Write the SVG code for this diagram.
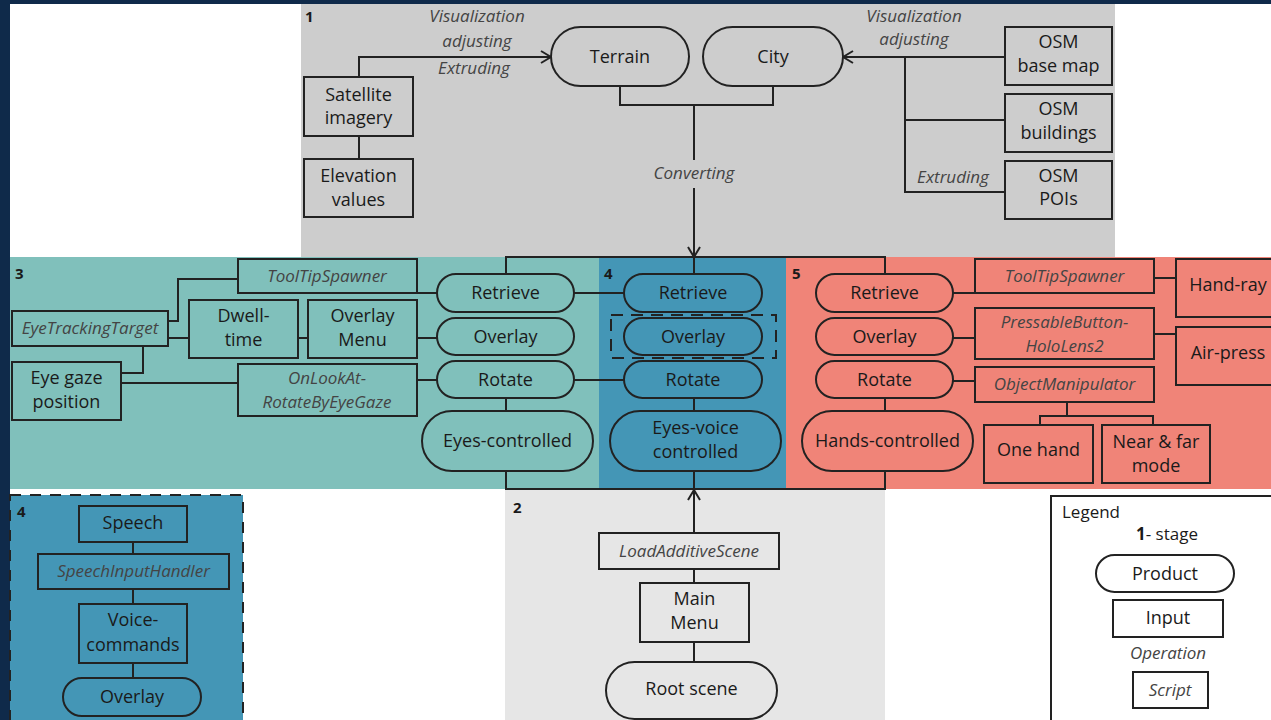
<svg xmlns="http://www.w3.org/2000/svg" width="1271" height="720" viewBox="0 0 1271 720">
<defs>
<style>
text{font-family:"Open Sans","Noto Sans",sans-serif;font-size:18px;fill:#1a1a1a;text-anchor:middle}
.it{font-style:italic;font-size:17px;fill:#444}
.num{font-weight:bold;font-size:15px;text-anchor:start}
.box{fill:none;stroke:#222;stroke-width:2}
.ln{fill:none;stroke:#222;stroke-width:2}
</style>
<marker id="arr" viewBox="0 0 12 14" markerWidth="12" markerHeight="14" refX="11" refY="7" orient="auto" markerUnits="userSpaceOnUse">
<path d="M1,1 L11,7 L1,13" fill="none" stroke="#222" stroke-width="2"/>
</marker>
</defs>
<!-- background -->
<rect x="0" y="0" width="1271" height="720" fill="#ffffff"/>
<rect x="0" y="0" width="1271" height="4" fill="#0f2a4a"/>
<rect x="0" y="0" width="10" height="720" fill="#0f2a4a"/>
<!-- stage regions -->
<g id="stage1"><rect x="301" y="4" width="814" height="253" fill="#cdcdcd"/><text class="num" x="305" y="22">1</text></g>
<g id="stage3"><rect x="10" y="257" width="589" height="232" fill="#80c0bb"/><text class="num" x="15" y="279">3</text></g>
<g id="stage4"><rect x="599" y="257" width="187" height="232" fill="#4496b6"/><text class="num" x="604" y="279">4</text></g>
<g id="stage5"><rect x="786" y="257" width="485" height="232" fill="#f08478"/><text class="num" x="792" y="279">5</text></g>
<g id="stage2"><rect x="505" y="489" width="380" height="231" fill="#e6e6e6"/><text class="num" x="513" y="513">2</text></g>
<g id="stage4b"><rect x="10" y="495" width="233" height="240" fill="#4496b6" stroke="#222" stroke-width="2" stroke-dasharray="11 9"/><text class="num" x="17" y="517">4</text></g>

<!-- connectors -->
<g id="connectors">
<path class="ln" d="M359,77 V57 H551" marker-end="url(#arr)"/>
<path class="ln" d="M359,136 V159"/>
<path class="ln" d="M1005,57 H843" marker-end="url(#arr)"/>
<path class="ln" d="M905,57 V192 H1005 M905,120 H1005"/>
<path class="ln" d="M620,86 V105 H773 V86 M694,105 V160"/>
<path class="ln" d="M694,188 V257" marker-end="url(#arr)"/>
<path class="ln" d="M506,274 V257 H885 V274 M694,257 V274"/>
<path class="ln" d="M506,471 V489 H885 V471 M694,471 V489"/>
<path class="ln" d="M694,533 V490" marker-end="url(#arr)"/>
<path class="ln" d="M694,569 V583 M694,642 V662"/>
<!-- stage 3 -->
<path class="ln" d="M168,321 H178 V279 H238"/>
<path class="ln" d="M168,338 H189 M298,338 H308 M417,338 H437"/>
<path class="ln" d="M143,346 V373 H121"/>
<path class="ln" d="M121,383 H238"/>
<path class="ln" d="M417,293 H437 M417,380 H437"/>
<path class="ln" d="M574,293 H624 M574,380 H624"/>
<path class="ln" d="M506,398 V411 M694,398 V411 M885,398 V411"/>
<!-- stage 5 -->
<path class="ln" d="M953,293 H975 M953,338 H975 M953,381 H975"/>
<path class="ln" d="M1154,278 H1176 M1154,334 H1176"/>
<path class="ln" d="M1067,402 V416 M1040,425 V416 H1153 V425"/>
<!-- stage 4b -->
<path class="ln" d="M133,542 V554 M133,589 V604 M133,663 V678"/>
</g>

<!-- stage 1 labels -->
<g id="lbl-vis1"><text class="it" x="477" y="22">Visualization</text><text class="it" x="477" y="47">adjusting</text><text class="it" x="474" y="74">Extruding</text></g>
<g id="lbl-vis2"><text class="it" x="914" y="22">Visualization</text><text class="it" x="914" y="45">adjusting</text></g>
<g id="lbl-ext2"><text class="it" x="953" y="183">Extruding</text></g>
<g id="lbl-conv"><text class="it" x="694" y="179">Converting</text></g>

<g id="satellite"><rect class="box" x="304" y="77" width="109" height="59"/><text x="358.5" y="101">Satellite</text><text x="358.5" y="124">imagery</text></g>
<g id="elevation"><rect class="box" x="304" y="159" width="109" height="58"/><text x="358.5" y="182">Elevation</text><text x="358.5" y="206">values</text></g>
<g id="terrain"><rect class="box" x="551" y="27" width="138" height="59" rx="29.5"/><text x="620" y="63">Terrain</text></g>
<g id="city"><rect class="box" x="703" y="27" width="140" height="59" rx="29.5"/><text x="773" y="63">City</text></g>
<g id="osm-base"><rect class="box" x="1005" y="27" width="107" height="58"/><text x="1058.5" y="48">OSM</text><text x="1058.5" y="72">base map</text></g>
<g id="osm-buildings"><rect class="box" x="1005" y="94" width="107" height="58"/><text x="1058.5" y="115">OSM</text><text x="1058.5" y="139">buildings</text></g>
<g id="osm-pois"><rect class="box" x="1005" y="161" width="107" height="58"/><text x="1058.5" y="182">OSM</text><text x="1058.5" y="205">POIs</text></g>

<!-- stage 3 nodes -->
<g id="s3-tooltip"><rect class="box" x="238" y="259" width="179" height="34"/><text class="it" x="327" y="282">ToolTipSpawner</text></g>
<g id="s3-eyetracking"><rect class="box" x="12" y="311" width="156" height="35"/><text class="it" x="90" y="334">EyeTrackingTarget</text></g>
<g id="s3-dwell"><rect class="box" x="189" y="300" width="109" height="58"/><text x="243.5" y="322">Dwell-</text><text x="243.5" y="346">time</text></g>
<g id="s3-overlaymenu"><rect class="box" x="308" y="300" width="109" height="58"/><text x="362.5" y="322">Overlay</text><text x="362.5" y="346">Menu</text></g>
<g id="s3-eyegaze"><rect class="box" x="12" y="362" width="109" height="58"/><text x="66.5" y="384">Eye gaze</text><text x="66.5" y="408">position</text></g>
<g id="s3-onlook"><rect class="box" x="238" y="364" width="179" height="52"/><text class="it" x="327" y="384">OnLookAt-</text><text class="it" x="327" y="408">RotateByEyeGaze</text></g>
<g id="s3-retrieve"><rect class="box" x="437" y="274" width="137" height="38" rx="19"/><text x="505.5" y="299">Retrieve</text></g>
<g id="s3-overlay"><rect class="box" x="437" y="318" width="137" height="37" rx="18.5"/><text x="505.5" y="343">Overlay</text></g>
<g id="s3-rotate"><rect class="box" x="437" y="361" width="137" height="37" rx="18.5"/><text x="505.5" y="386">Rotate</text></g>
<g id="s3-eyes"><rect class="box" x="422" y="411" width="171" height="60" rx="30"/><text x="507.5" y="447">Eyes-controlled</text></g>

<!-- stage 4 nodes -->
<g id="s4-retrieve"><rect class="box" x="624" y="274" width="138" height="38" rx="19"/><text x="693" y="299">Retrieve</text></g>
<g id="s4-overlay"><rect x="611" y="315" width="165" height="43" fill="none" stroke="#222" stroke-width="2" stroke-dasharray="12 8"/><rect class="box" x="624" y="318" width="138" height="37" rx="18.5"/><text x="693" y="343">Overlay</text></g>
<g id="s4-rotate"><rect class="box" x="624" y="361" width="138" height="37" rx="18.5"/><text x="693" y="386">Rotate</text></g>
<g id="s4-eyesvoice"><rect class="box" x="610" y="411" width="171" height="60" rx="30"/><text x="695.5" y="434">Eyes-voice</text><text x="695.5" y="458">controlled</text></g>

<!-- stage 5 nodes -->
<g id="s5-retrieve"><rect class="box" x="816" y="274" width="137" height="38" rx="19"/><text x="884.5" y="299">Retrieve</text></g>
<g id="s5-overlay"><rect class="box" x="816" y="318" width="137" height="37" rx="18.5"/><text x="884.5" y="343">Overlay</text></g>
<g id="s5-rotate"><rect class="box" x="816" y="361" width="137" height="37" rx="18.5"/><text x="884.5" y="386">Rotate</text></g>
<g id="s5-hands"><rect class="box" x="802" y="411" width="171" height="60" rx="30"/><text x="887.5" y="447">Hands-controlled</text></g>
<g id="s5-tooltip"><rect class="box" x="975" y="259" width="179" height="34"/><text class="it" x="1064.5" y="282">ToolTipSpawner</text></g>
<g id="s5-pressable"><rect class="box" x="975" y="308" width="179" height="51"/><text class="it" x="1064.5" y="328">PressableButton-</text><text class="it" x="1064.5" y="352">HoloLens2</text></g>
<g id="s5-objmanip"><rect class="box" x="975" y="367" width="179" height="35"/><text class="it" x="1064.5" y="390">ObjectManipulator</text></g>
<g id="s5-handray"><rect class="box" x="1176" y="259" width="110" height="58"/><text x="1228" y="291">Hand-ray</text></g>
<g id="s5-airpress"><rect class="box" x="1176" y="327" width="110" height="58"/><text x="1228" y="359">Air-press</text></g>
<g id="s5-onehand"><rect class="box" x="984" y="425" width="109" height="58"/><text x="1038.5" y="456">One hand</text></g>
<g id="s5-nearfar"><rect class="box" x="1102" y="425" width="108" height="58"/><text x="1156" y="448">Near &amp; far</text><text x="1156" y="472">mode</text></g>

<!-- stage 4b nodes -->
<g id="s4b-speech"><rect class="box" x="79" y="506" width="108" height="36"/><text x="133" y="529">Speech</text></g>
<g id="s4b-handler"><rect class="box" x="38" y="554" width="191" height="35"/><text class="it" x="133.5" y="577">SpeechInputHandler</text></g>
<g id="s4b-voice"><rect class="box" x="79" y="604" width="108" height="59"/><text x="133" y="626">Voice-</text><text x="133" y="651">commands</text></g>
<g id="s4b-overlay"><rect class="box" x="63" y="678" width="138" height="38" rx="19"/><text x="132" y="703">Overlay</text></g>

<!-- stage 2 nodes -->
<g id="s2-load"><rect class="box" x="599" y="533" width="180" height="36"/><text class="it" x="689" y="557">LoadAdditiveScene</text></g>
<g id="s2-mainmenu"><rect class="box" x="640" y="583" width="109" height="59"/><text x="694.5" y="605">Main</text><text x="694.5" y="629">Menu</text></g>
<g id="s2-root"><rect class="box" x="606" y="662" width="171" height="57" rx="28.5"/><text x="691.5" y="695">Root scene</text></g>

<!-- legend -->
<g id="legend">
<rect x="1051" y="496" width="230" height="240" fill="#ffffff" stroke="#222" stroke-width="2"/>
<text x="1062" y="518" style="text-anchor:start;font-size:17px">Legend</text>
<text x="1167" y="540" style="font-size:17px"><tspan font-weight="bold">1</tspan>- stage</text>
<rect class="box" x="1096" y="555" width="138" height="37" rx="18.5"/><text x="1165" y="580">Product</text>
<rect class="box" x="1113" y="600" width="110" height="37"/><text x="1168" y="624">Input</text>
<text class="it" x="1168" y="659">Operation</text>
<rect class="box" x="1133" y="672" width="75" height="36"/><text class="it" x="1170" y="696">Script</text>
</g>
</svg>
